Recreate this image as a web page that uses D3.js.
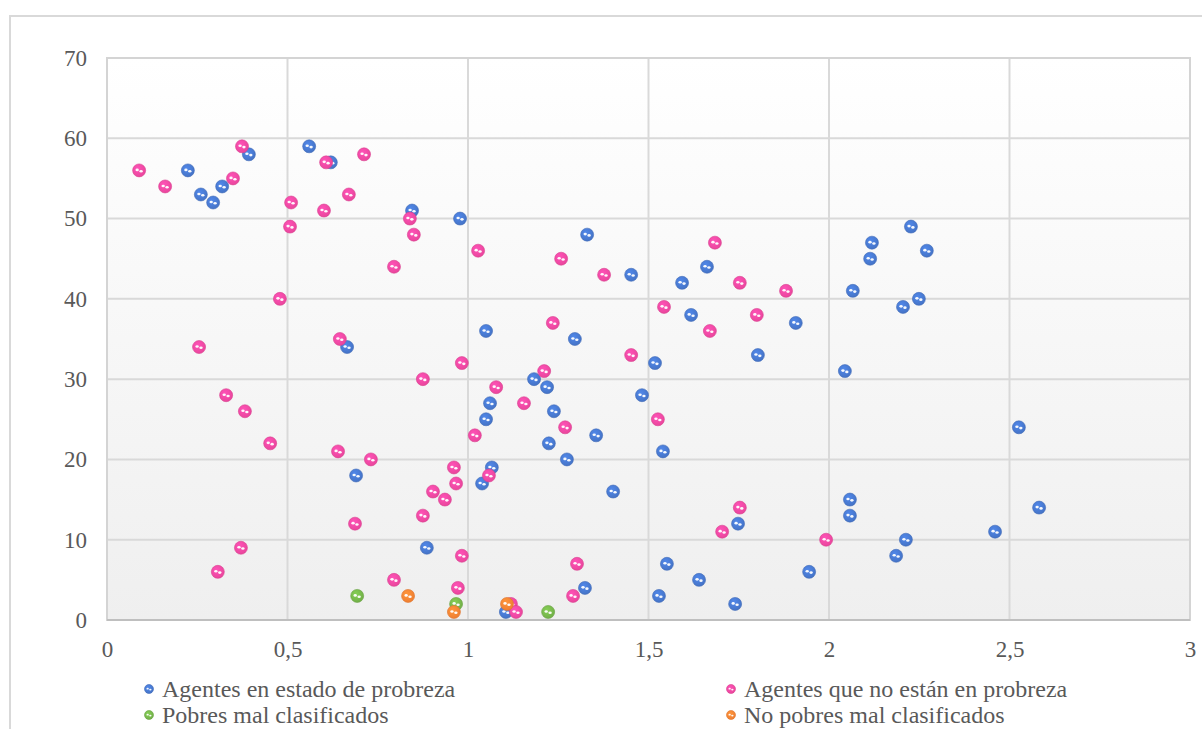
<!DOCTYPE html>
<html>
<head>
<meta charset="utf-8">
<script src="https://cdn.jsdelivr.net/npm/d3@7"></script>
<style>
  html, body { margin: 0; padding: 0; background: #fff; }
  svg { display: block; }
</style>
</head>
<body>
<svg id="chart" width="1202" height="729"></svg>
<script>
// ---- Data ----
const seriesNames = [
  "Agentes en estado de probreza",
  "Agentes que no están en probreza",
  "Pobres mal clasificados",
  "No pobres mal clasificados"
];
const xTicks = [0, 0.5, 1, 1.5, 2, 2.5, 3];
const yTicks = [0, 10, 20, 30, 40, 50, 60, 70];

const blueX = [0.224, 0.26, 0.294, 0.319, 0.393, 0.56, 0.62, 0.665, 0.69, 0.845, 0.886, 0.978, 1.05, 1.061, 1.05, 1.039, 1.066, 1.105, 1.183, 1.219, 1.224, 1.238, 1.274, 1.296, 1.33, 1.324, 1.355, 1.402, 1.452, 1.482, 1.518, 1.529, 1.54, 1.551, 1.593, 1.618, 1.64, 1.662, 1.74, 1.748, 1.803, 1.908, 1.945, 2.044, 2.058, 2.058, 2.066, 2.114, 2.119, 2.186, 2.205, 2.213, 2.227, 2.249, 2.271, 2.46, 2.526, 2.582];
const blueY = [56, 53, 52, 54, 58, 59, 57, 34, 18, 51, 9, 50, 36, 27, 25, 17, 19, 1, 30, 29, 22, 26, 20, 35, 48, 4, 23, 16, 43, 28, 32, 3, 21, 7, 42, 38, 5, 44, 2, 12, 33, 37, 6, 31, 13, 15, 41, 45, 47, 8, 39, 10, 49, 40, 46, 11, 24, 14];

const pinkX = [0.089, 0.161, 0.255, 0.307, 0.33, 0.349, 0.374, 0.371, 0.382, 0.452, 0.479, 0.51, 0.507, 0.601, 0.607, 0.64, 0.645, 0.67, 0.687, 0.712, 0.731, 0.795, 0.795, 0.839, 0.85, 0.875, 0.875, 0.903, 0.936, 0.961, 0.967, 0.972, 0.983, 0.983, 1.019, 1.028, 1.058, 1.078, 1.119, 1.133, 1.155, 1.211, 1.235, 1.258, 1.269, 1.291, 1.302, 1.377, 1.452, 1.526, 1.543, 1.67, 1.684, 1.704, 1.753, 1.753, 1.8, 1.881, 1.992];
const pinkY = [56, 54, 34, 6, 28, 55, 59, 9, 26, 22, 40, 52, 49, 51, 57, 21, 35, 53, 12, 58, 20, 44, 5, 50, 48, 30, 13, 16, 15, 19, 17, 4, 32, 8, 23, 46, 18, 29, 2, 1, 27, 31, 37, 45, 24, 3, 7, 43, 33, 25, 39, 36, 47, 11, 42, 14, 38, 41, 10];

const greenX = [0.693, 0.967, 1.222];
const greenY = [3, 2, 1];

const orangeX = [0.834, 0.961, 1.108];
const orangeY = [3, 1, 2];

const colors = ["#4472C4", "#E8459A", "#70AD47", "#ED7D31"];

// ---- Layout ----
const svg = d3.select("#chart");
const W = 1202, H = 729;
const plot = { left: 107, top: 58, right: 1190, bottom: 620 };

const x = d3.scaleLinear().domain([0, 3]).range([plot.left, plot.right]);
const y = d3.scaleLinear().domain([0, 70]).range([plot.bottom, plot.top]);

const defs = svg.append("defs");
const bg = defs.append("linearGradient").attr("id", "plotbg")
  .attr("x1", 0).attr("y1", 0).attr("x2", 0).attr("y2", 1);
bg.append("stop").attr("offset", "0%").attr("stop-color", "#ffffff");
bg.append("stop").attr("offset", "100%").attr("stop-color", "#efefef");

colors.forEach((c, i) => {
  const g = defs.append("radialGradient").attr("id", "ball" + i)
    .attr("cx", "40%").attr("cy", "35%").attr("r", "70%");
  g.append("stop").attr("offset", "0%").attr("stop-color", d3.color(c).brighter(0.5));
  g.append("stop").attr("offset", "100%").attr("stop-color", c);
});

// chart area with outer border
svg.append("rect").attr("x", 0).attr("y", 0).attr("width", W).attr("height", H).attr("fill", "#fff");
svg.append("rect").attr("x", 10).attr("y", 16).attr("width", W + 20).attr("height", H + 20)
  .attr("fill", "#fff").attr("stroke", "#d9d9d9").attr("stroke-width", 2);

// plot area
svg.append("rect").attr("x", plot.left).attr("y", plot.top)
  .attr("width", plot.right - plot.left).attr("height", plot.bottom - plot.top)
  .attr("fill", "url(#plotbg)");

// gridlines
const grid = svg.append("g");
grid.selectAll(".hg").data(yTicks).join("line")
  .attr("x1", plot.left).attr("x2", plot.right)
  .attr("y1", d => y(d)).attr("y2", d => y(d))
  .attr("stroke", "#d9d9d9").attr("stroke-width", 2);
grid.selectAll(".vg").data(xTicks).join("line")
  .attr("y1", plot.top).attr("y2", plot.bottom)
  .attr("x1", d => x(d)).attr("x2", d => x(d))
  .attr("stroke", "#d9d9d9").attr("stroke-width", 2);

// plot border
svg.append("rect").attr("x", plot.left).attr("y", plot.top)
  .attr("width", plot.right - plot.left).attr("height", plot.bottom - plot.top)
  .attr("fill", "none").attr("stroke", "#d4d4d4").attr("stroke-width", 2);

// axes (labels only)
const fmt = d => String(d).replace(".", ",");
const xAxis = d3.axisBottom(x).tickValues(xTicks).tickFormat(fmt).tickSize(0).tickPadding(21);
const yAxis = d3.axisLeft(y).tickValues(yTicks).tickFormat(d3.format("d")).tickSize(0).tickPadding(20);

const gx = svg.append("g").attr("transform", `translate(0,${plot.bottom})`).call(xAxis);
const gy = svg.append("g").attr("transform", `translate(${plot.left},0)`).call(yAxis);
[gx, gy].forEach(g => {
  g.select(".domain").remove();
  g.selectAll("text").attr("font-family", "'Liberation Serif', 'Times New Roman', serif")
    .attr("font-size", 23).attr("fill", "#595959");
});
// bottom axis line
svg.append("line").attr("x1", plot.left).attr("x2", plot.right)
  .attr("y1", plot.bottom).attr("y2", plot.bottom)
  .attr("stroke", "#bfbfbf").attr("stroke-width", 2);

// markers
function ball(g, cx, cy, i, r) {
  const m = g.append("g").attr("transform", `translate(${cx},${cy})`);
  m.append("circle").attr("r", r).attr("fill", `url(#ball${i})`)
    .attr("stroke", d3.color(colors[i]).darker(0.2)).attr("stroke-width", 0.6);
  m.append("ellipse").attr("cx", -r * 0.3).attr("cy", -r * 0.08).attr("rx", r * 0.26).attr("ry", r * 0.2)
    .attr("fill", "#fff").attr("opacity", 0.95);
  m.append("ellipse").attr("cx", r * 0.3).attr("cy", r * 0.12).attr("rx", r * 0.26).attr("ry", r * 0.2)
    .attr("fill", "#fff").attr("opacity", 0.95);
}

const series = [
  { xs: blueX, ys: blueY },
  { xs: pinkX, ys: pinkY },
  { xs: greenX, ys: greenY },
  { xs: orangeX, ys: orangeY }
];
const marks = svg.append("g");
series.forEach((s, i) => {
  const g = marks.append("g");
  s.xs.forEach((xv, k) => ball(g, x(xv), y(s.ys[k]), i, 6.5));
});

// legend
const legendPos = [
  { mx: 149, ty: 689 },
  { mx: 731, ty: 689 },
  { mx: 149, ty: 715 },
  { mx: 731, ty: 715 }
];
const lg = svg.append("g");
seriesNames.forEach((name, i) => {
  const p = legendPos[i];
  ball(lg, p.mx, p.ty, i, 4.5);
  lg.append("text").attr("x", p.mx + 13).attr("y", p.ty).attr("dy", "0.35em")
    .attr("font-family", "'Liberation Serif', 'Times New Roman', serif")
    .attr("font-size", 24).attr("fill", "#595959").text(name);
});
</script>
</body>
</html>
